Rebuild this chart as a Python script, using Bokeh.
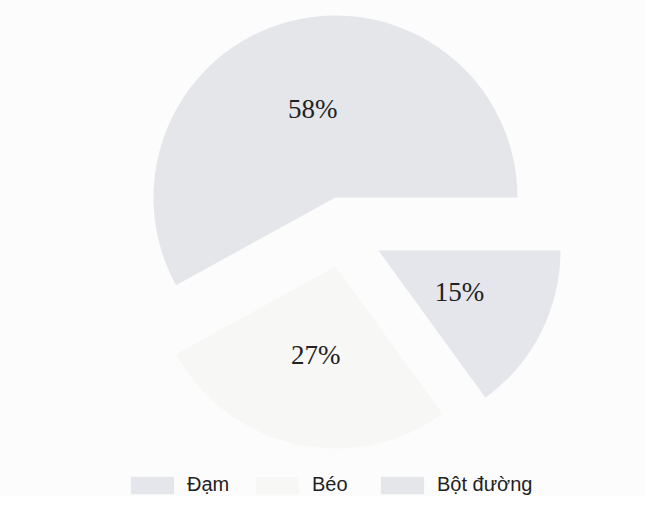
import numpy as np
from bokeh.plotting import figure
from bokeh.models import ColumnDataSource, Range1d, Legend, LegendItem
from bokeh.core.properties import value
from bokeh.embed import file_html
from bokeh.resources import INLINE

# ---- data (pie order: counter-clockwise from 3 o'clock) ----
categories = ["Bột đường", "Béo", "Đạm"]
shares = [58, 27, 15]
pct_labels = ["58%", "27%", "15%"]
legend_order = ["Đạm", "Béo", "Bột đường"]

# ---- layout / style ----
W, H = 645, 496
cx, cy = 335, 299
radius = 182
explode_dx = [0, 0, 43]
explode_dy = [0, -69, -53]
colors = ["#e4e6ea", "#f7f7f6", "#e4e6eb"]

frac = np.array(shares, dtype=float) / sum(shares)
ends = np.cumsum(frac) * 2 * np.pi
starts = ends - frac * 2 * np.pi
mids = (starts + ends) / 2
xs = cx + np.array(explode_dx)
ys = cy + np.array(explode_dy)
lx = xs + 0.5 * radius * np.cos(mids)
ly = ys + 0.5 * radius * np.sin(mids)

src = ColumnDataSource(dict(
    cat=categories, label=pct_labels, x=xs, y=ys,
    start=starts, end=ends, color=colors, lx=lx, ly=ly,
))

p = figure(width=W, height=H, x_range=Range1d(0, W), y_range=Range1d(0, H),
           output_backend="svg", toolbar_location=None, min_border=0,
           x_axis_type=None, y_axis_type=None)
p.grid.visible = False
p.outline_line_color = None
p.background_fill_color = "#fcfcfc"
p.border_fill_color = "#fcfcfc"

r = p.wedge(x="x", y="y", radius=radius, start_angle="start", end_angle="end",
            fill_color="color", line_color=None, source=src)

p.text(x="lx", y="ly", text="label", source=src, text_align="center",
       text_baseline="middle", text_font=value("Liberation Serif"),
       text_font_size="27px", text_color="#222222")

items = [LegendItem(label=c, renderers=[r], index=categories.index(c)) for c in legend_order]
legend = Legend(items=items, orientation="horizontal", location=(125, 0),
                glyph_width=54, glyph_height=22, label_standoff=8, label_width=60,
                spacing=3, padding=0, margin=0, border_line_color=None,
                background_fill_alpha=0, label_text_font="Liberation Sans",
                label_text_font_size="20px", label_text_color="#222222")
p.add_layout(legend)

open("out.html", "w").write(file_html(p, INLINE))
